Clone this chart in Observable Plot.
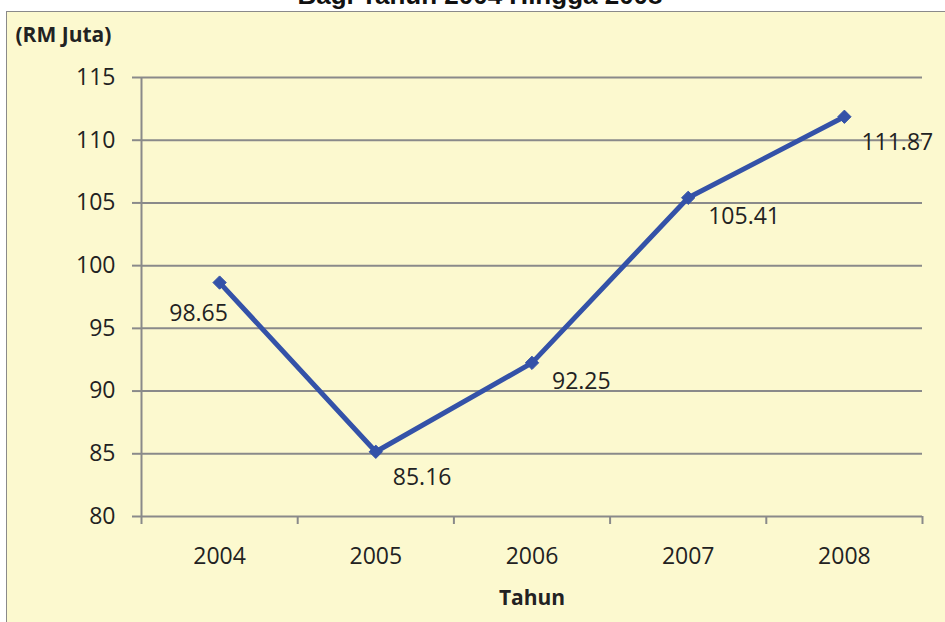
<!DOCTYPE html>
<html><head><meta charset="utf-8">
<script src="https://cdn.jsdelivr.net/npm/d3@7"></script>
<script src="https://cdn.jsdelivr.net/npm/@observablehq/plot@0.6"></script>
<style>
body{margin:0;background:#fff;width:945px;height:622px;overflow:hidden;position:relative;font-family:"Open Sans",sans-serif}
#box{position:absolute;left:6px;top:11px;width:960px;height:640px;background:#FCF9CF;border:1.5px solid #8a8a8a;box-sizing:border-box}
#title{position:absolute;left:0;width:960px;top:-20px;text-align:center;font:bold 26px "Liberation Sans",Arial,sans-serif;color:#111}
#chart{position:absolute;left:0;top:0}
</style></head><body>
<div id="box"></div>
<div id="title"></div>
<div id="chart"></div>
<script>
const years = [2004, 2005, 2006, 2007, 2008];
const values = [98.65, 85.16, 92.25, 105.41, 111.87];
const yTicks = [80, 85, 90, 95, 100, 105, 110, 115];
const yLabel = "(RM Juta)";
const xLabel = "Tahun";
const titleText = "Bagi Tahun 2004 Hingga 2008";

document.getElementById("title").textContent = titleText;
const data = years.map((y, i) => ({year: y, value: values[i], i}));
const bounds = d3.range(years[0] - 0.5, years[years.length - 1] + 1, 1);
const grid = "#8a8a8a";
const blue = "#3452A8";

const chart = Plot.plot({
  width: 945, height: 622,
  marginLeft: 141, marginRight: 23, marginTop: 77, marginBottom: 106,
  style: {background: "transparent", fontFamily: "'Open Sans', sans-serif", fontSize: "23px", color: "#222", overflow: "visible"},
  x: {domain: [bounds[0], bounds[bounds.length - 1]]},
  y: {domain: [yTicks[0], yTicks[yTicks.length - 1]]},
  marks: [
    Plot.gridY(yTicks, {stroke: grid, strokeWidth: 2, strokeOpacity: 1}),
    Plot.axisY(yTicks, {tickSize: 9, tickPadding: 17, stroke: grid, strokeWidth: 2, label: null, tickFormat: d => String(d)}),
    Plot.ruleX([bounds[0]], {stroke: grid, strokeWidth: 2}),
    Plot.axisX(bounds, {tickSize: 8, tickFormat: () => "", stroke: grid, strokeWidth: 2, label: null}),
    Plot.axisX(years, {tickSize: 0, tickPadding: 31, tickFormat: d => String(d), label: null}),
    Plot.line(data, {x: "year", y: "value", stroke: blue, strokeWidth: 5}),
    Plot.dot(data, {x: "year", y: "value", symbol: "diamond2", r: 6, fill: blue, stroke: blue, strokeWidth: 1}),
    Plot.text(data.filter(d => d.i === 0), {x: "year", y: "value", text: d => d.value.toFixed(2), textAnchor: "middle", dx: -21, dy: 31}),
    Plot.text(data.filter(d => d.i === 1 || d.i === 4), {x: "year", y: "value", text: d => d.value.toFixed(2), textAnchor: "start", dx: 17, dy: 26}),
    Plot.text(data.filter(d => d.i === 2 || d.i === 3), {x: "year", y: "value", text: d => d.value.toFixed(2), textAnchor: "start", dx: 20, dy: 19}),
    Plot.text([yLabel], {frameAnchor: "top-left", lineAnchor: "middle", text: d => d, textAnchor: "start", dx: -126, dy: -42, fontWeight: "bold", fontSize: 21}),
    Plot.text([xLabel], {frameAnchor: "bottom", lineAnchor: "middle", text: d => d, dy: 82, fontWeight: "bold", fontSize: 21})
  ]
});
document.getElementById("chart").append(chart);
</script>
</body></html>
